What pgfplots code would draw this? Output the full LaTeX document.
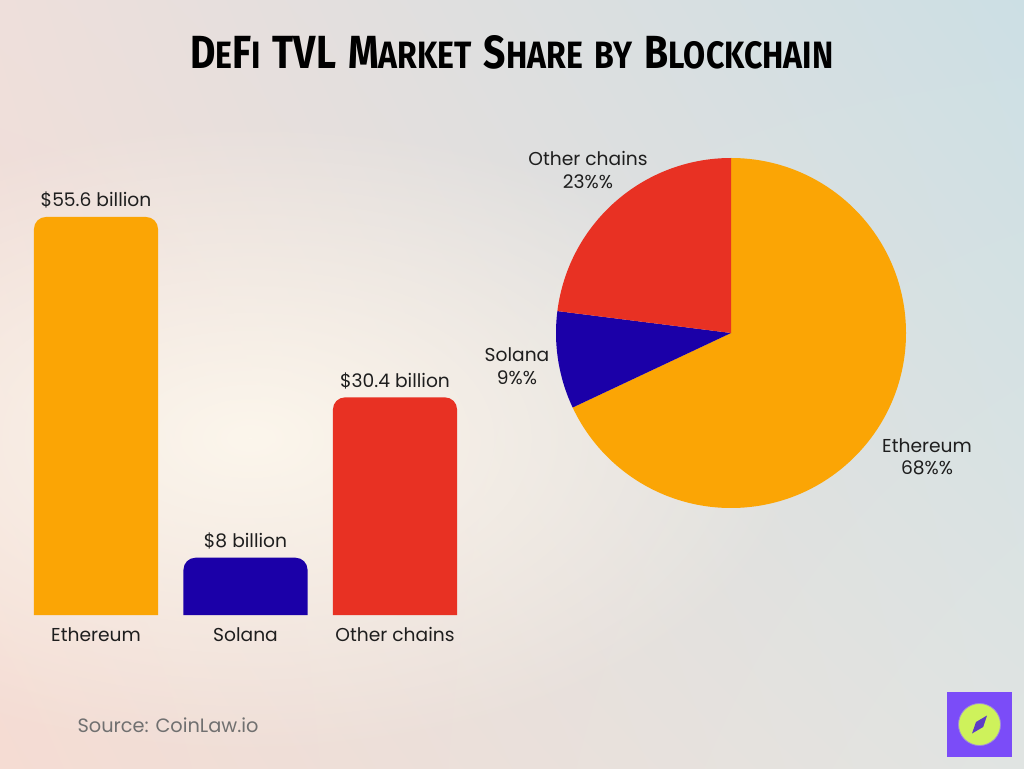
\documentclass[border=0pt]{standalone}
\usepackage{pgfplots}
\pgfplotsset{compat=1.18}
\usepackage{fontspec}
\usetikzlibrary{fadings,shadings}
\setmainfont{Poppins}
\newfontfamily\titlefont{Fira Sans}
\definecolor{barorange}{HTML}{FBA505}
\definecolor{barblue}{HTML}{1B00A8}
\definecolor{barred}{HTML}{E83123}
\definecolor{txt}{HTML}{1E1E1E}
\definecolor{srcgray}{HTML}{707070}
\definecolor{logopurple}{HTML}{7B4CF8}
\definecolor{logolime}{HTML}{CEF25B}
\definecolor{logodark}{HTML}{5E3CC4}
\definecolor{bgTL}{HTML}{EEDFDB}
\definecolor{bgTR}{HTML}{CCDFE4}
\definecolor{bgBL}{HTML}{F5DCD3}
\definecolor{bgBR}{HTML}{E0E4E2}
\definecolor{cream}{HTML}{FCF6EC}
\tikzfading[name=softfade, inner color=transparent!0, outer color=transparent!100]
\newcommand{\B}[1]{{\fontsize{36}{36}\selectfont #1}}
\newcommand{\s}[1]{{\fontsize{29.5}{29.5}\selectfont #1}}
\newcommand{\wsp}{\hspace{11pt}}
\begin{document}
\begin{tikzpicture}
\begin{scope}[x=0.75pt,y=0.75pt]
\useasboundingbox (0,0) rectangle (1024,768);
\clip (0,0) rectangle (1024,768);
\shade[upper left=bgTL, upper right=bgTR, lower left=bgBL, lower right=bgBR] (0,0) rectangle (1024,768);
\fill[cream, path fading=softfade] (250,330) ellipse (560 and 320);
% title
\node[anchor=south west, inner sep=0pt] at (190,698) {\resizebox{482.25pt}{24.75pt}{\titlefont\bfseries \B{D}\s{E}\B{F}\s{I}\wsp\B{TVL}\wsp\B{M}\s{ARKET}\wsp\B{S}\s{HARE}\wsp\s{BY}\wsp\B{B}\s{LOCKCHAIN}}};
% pie labels
\begin{scope}[every node/.style={anchor=base, inner sep=0pt, text=txt, font=\fontsize{14}{14}\selectfont}]
\node at (588,602) {Other chains};
\node at (588,579) {23\%\%};
\node at (517,406) {Solana};
\node at (517,383) {9\%\%};
\node at (927,315) {Ethereum};
\node at (927,293) {68\%\%};
\node[text=srcgray, font=\fontsize{14.5}{14.5}\selectfont] at (168,36) {Source: CoinLaw.io};
\end{scope}
% logo
\fill[logopurple] (947,11) rectangle (1012,76);
\fill[logolime, draw=logodark!60, line width=0.6pt] (979.5,43.5) circle (21);
\fill[logodark] (987,52.5) -- (983.2,41) -- (972,34.5) -- (976,46) -- cycle;
\end{scope}
% bar chart
\begin{axis}[
  at={(15.94pt,114.75pt)}, anchor=south west,
  width=336.375pt, height=322.125pt, scale only axis,
  xmin=-0.5, xmax=2.5, ymin=0, ymax=60,
  hide axis, clip mode=individual,
]
\addplot[fill=barorange, draw=none, rounded corners=9pt] coordinates {(-0.415,-3) (-0.415,55.6) (0.415,55.6) (0.415,-3)} -- cycle;
\addplot[fill=barblue, draw=none, rounded corners=9pt] coordinates {(0.585,-3) (0.585,8) (1.415,8) (1.415,-3)} -- cycle;
\addplot[fill=barred, draw=none, rounded corners=9pt] coordinates {(1.585,-3) (1.585,30.4) (2.415,30.4) (2.415,-3)} -- cycle;
\begin{scope}[every node/.style={anchor=base, inner sep=0pt, text=txt, font=\fontsize{14}{14}\selectfont}]
\node[yshift=7.5pt] at (axis cs:0,55.6) {\$55.6 billion};
\node[yshift=7.5pt] at (axis cs:1,8) {\$8 billion};
\node[yshift=7.5pt] at (axis cs:2,30.4) {\$30.4 billion};
\node[yshift=-19.5pt] at (axis cs:0,0) {Ethereum};
\node[yshift=-19.5pt] at (axis cs:1,0) {Solana};
\node[yshift=-19.5pt] at (axis cs:2,0) {Other chains};
\end{scope}
\end{axis}
% pie chart
\begin{axis}[
  at={(548.25pt,326.25pt)}, anchor=center,
  width=262.5pt, height=262.5pt, scale only axis,
  xmin=-1, xmax=1, ymin=-1, ymax=1, hide axis,
]
\fill[barorange] (axis cs:0,0) -- ++(90:131.25pt) arc[start angle=90, delta angle={-68*3.6}, radius=131.25pt] -- cycle;
\fill[barblue] (axis cs:0,0) -- ++({90-68*3.6}:131.25pt) arc[start angle={90-68*3.6}, delta angle={-9*3.6}, radius=131.25pt] -- cycle;
\fill[barred] (axis cs:0,0) -- ++({90-77*3.6}:131.25pt) arc[start angle={90-77*3.6}, delta angle={-23*3.6}, radius=131.25pt] -- cycle;
\end{axis}
\end{tikzpicture}
\end{document}
